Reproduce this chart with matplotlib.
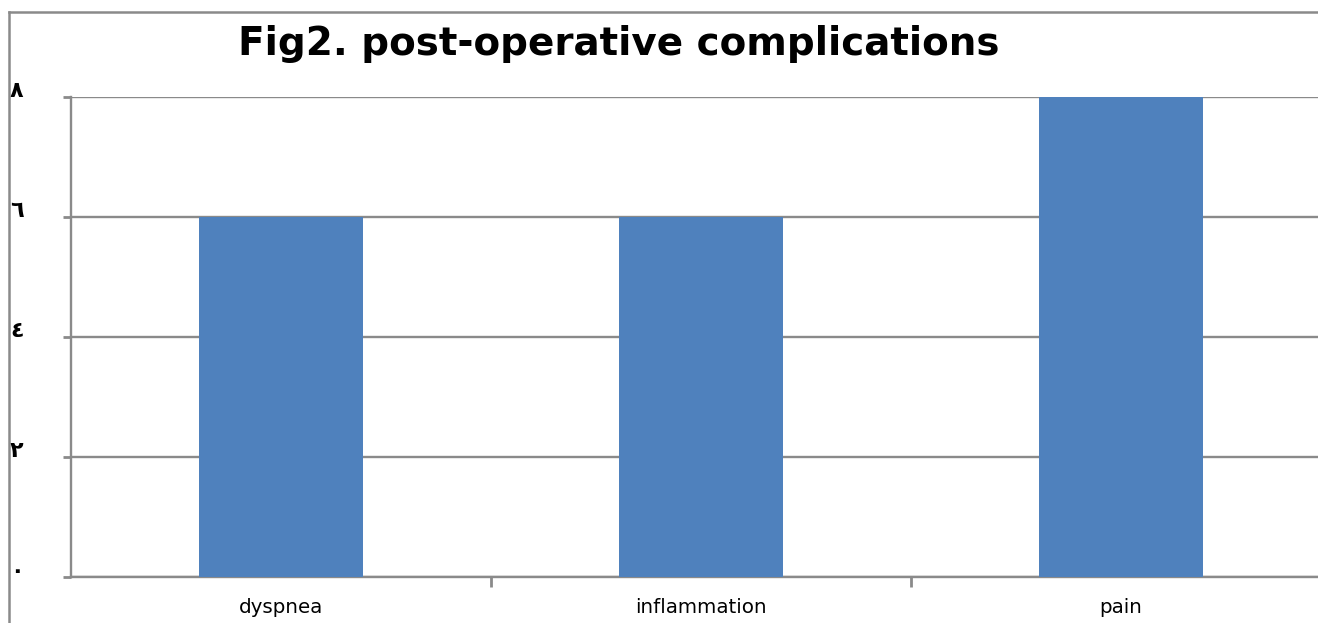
import matplotlib
matplotlib.use('Agg')
import matplotlib.pyplot as plt
from matplotlib.lines import Line2D

categories = ['dyspnea', 'inflammation', 'pain']
values = [6, 6, 8]
ytick_vals = [0, 2, 4, 6, 8]
ytick_labels = ['٠', '٢', '٤', '٦', '٨']

W, H = 1318, 623
fig = plt.figure(figsize=(W / 100, H / 100), dpi=100)
grey = '#8a8a8a'

# axes reaches slightly past the right edge, like the cropped original
ax = fig.add_axes([71 / W, 1 - 577 / H, (1331 - 71) / W, (577 - 97) / H])
x = list(range(len(categories)))
ax.bar(x, values, width=0.39, color='#4F81BD', zorder=3)

ax.set_xlim(-0.5, 2.5)
ax.set_ylim(0, 8)
ax.set_yticks(ytick_vals)
ax.set_yticklabels(ytick_labels, fontsize=16, fontweight='bold', family=['DejaVu Sans'])
for lab in ax.get_yticklabels():
    lab.set_va('baseline')
ax.set_xticks(x)
ax.set_xticklabels(categories, fontsize=14.3)
ax.set_xticks([0.5, 1.5], minor=True)
ax.tick_params(axis='x', which='major', length=0, pad=15)
ax.tick_params(axis='x', which='minor', length=7, width=2, color=grey, direction='out')
ax.tick_params(axis='y', length=6, width=2, color=grey, pad=28)

ax.yaxis.grid(True, color=grey, linewidth=1.7, zorder=0)
for s in ['top', 'right']:
    ax.spines[s].set_visible(False)
for s in ['left', 'bottom']:
    ax.spines[s].set_color(grey)
    ax.spines[s].set_linewidth(1.7)

# outer chart-area border (left and top)
fig.add_artist(Line2D([8.5 / W, 8.5 / W], [0, 1 - 12 / H], color=grey, linewidth=1.8))
fig.add_artist(Line2D([8.5 / W, 1], [1 - 12 / H, 1 - 12 / H], color=grey, linewidth=1.8))

fig.text(619 / W, 1 - 44 / H, 'Fig2. post-operative complications',
         ha='center', va='center', fontsize=28, fontweight='bold')

fig.savefig('out.png', dpi=100)
